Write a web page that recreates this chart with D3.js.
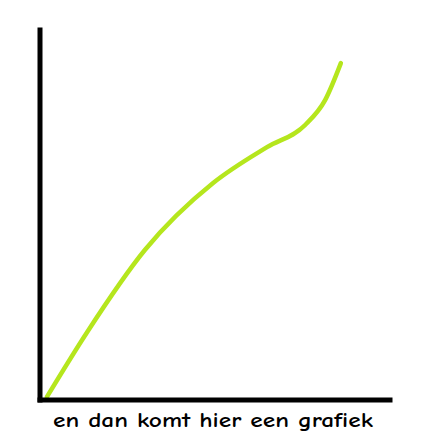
<!DOCTYPE html>
<html><head><meta charset="utf-8">
<script src="https://cdn.jsdelivr.net/npm/d3@7"></script>
<style>html,body{margin:0;padding:0;background:#fff;}</style>
</head><body><svg id="c" width="430" height="436"></svg>
<script>
const xValues = [0.21,1.36,3.01,4.96,6.50,7.59,8.16,8.61];
const yValues = [0.07,1.82,4.04,5.85,6.82,7.42,8.09,9.09];
const caption = "en dan komt hier een grafiek";

const svg = d3.select("#c");
const x = d3.scaleLinear().domain([0,10]).range([39.5,389.5]);
const y = d3.scaleLinear().domain([0,10]).range([399.5,29.5]);

const pts = xValues.map((v,i)=>[v,yValues[i]]);
svg.append("path").datum(pts)
  .attr("d", d3.line().x(d=>x(d[0])).y(d=>y(d[1])).curve(d3.curveMonotoneX))
  .attr("fill","none").attr("stroke","#b5e61d").attr("stroke-width",4.5).attr("stroke-linecap","round");

const gx = svg.append("g").attr("transform",`translate(0,${y(0)})`)
  .call(d3.axisBottom(x).ticks(0).tickSizeOuter(0));
const gy = svg.append("g").attr("transform",`translate(${x(0)},0)`)
  .call(d3.axisLeft(y).ticks(0).tickSizeOuter(0));
svg.selectAll(".domain").attr("stroke","#000").attr("stroke-width",5).attr("stroke-linecap","square");

svg.append("text").attr("x",213).attr("y",427).attr("text-anchor","middle")
  .attr("font-family","'Comic Sans MS','Comic Neue',Lato,sans-serif").attr("font-size",20)
  .attr("font-weight","bold")
  .attr("textLength",320).attr("lengthAdjust","spacingAndGlyphs")
  .attr("fill","#000").text(caption);
</script></body></html>
